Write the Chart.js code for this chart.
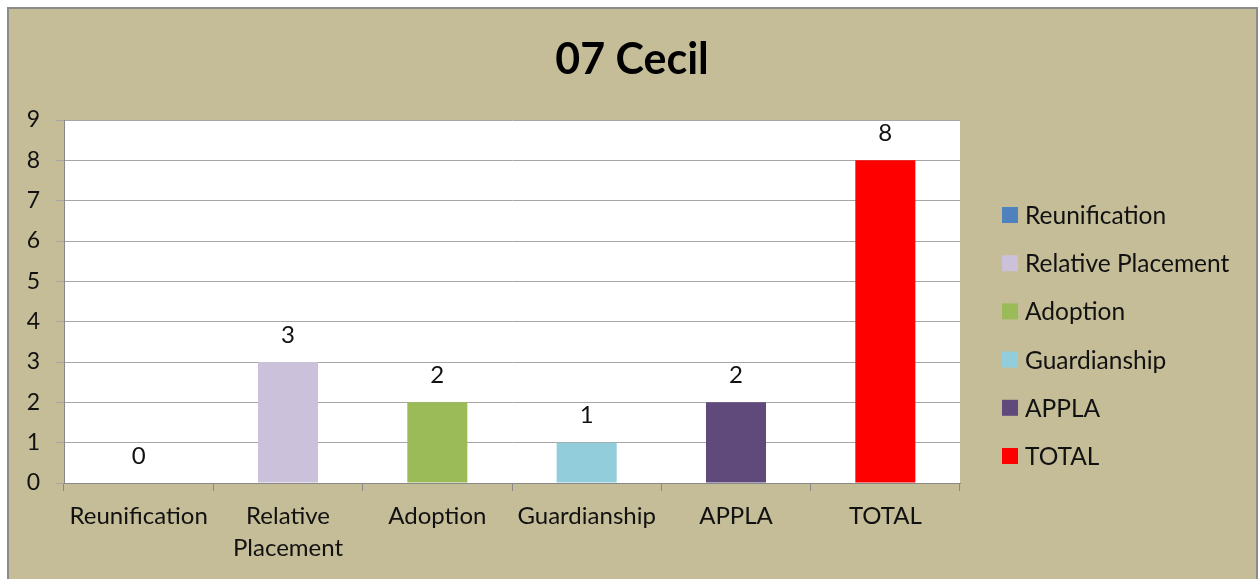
<!DOCTYPE html>
<html>
<head>
<meta charset="utf-8">
<script src="https://cdn.jsdelivr.net/npm/chart.js@4/dist/chart.umd.min.js"></script>
<style>
  html, body { margin: 0; padding: 0; background: #fff; }
  #wrap { width: 1258px; height: 579px; position: relative; }
</style>
</head>
<body>
<div id="wrap"><canvas id="chart"></canvas></div>
<script>
// Datos del gráfico
const chartTitle = "07 Cecil";
const categories = ["Reunification", "Relative Placement", "Adoption", "Guardianship", "APPLA", "TOTAL"];
const tickLabels = [["Reunification"], ["Relative", "Placement"], ["Adoption"], ["Guardianship"], ["APPLA"], ["TOTAL"]];
const values = [0, 3, 2, 1, 2, 8];
const barColors = ["#4F81BD", "#CCC1DA", "#9BBB59", "#92CDDC", "#604A7B", "#FF0000"];
const yTicks = [0, 1, 2, 3, 4, 5, 6, 7, 8, 9];

const FONT = "Lato, 'DejaVu Sans', sans-serif";
const BG = "#C4BD97";
const TEXT = "#111";

// Fondo, marco, área blanca y título centrado en todo el lienzo
const framePlugin = {
  id: "frame",
  beforeDraw(chart) {
    const { ctx, chartArea: a, width, height } = chart;
    ctx.save();
    ctx.fillStyle = "#fff";
    ctx.fillRect(0, 0, width, height);
    ctx.fillStyle = BG;
    ctx.fillRect(8, 8, width - 9, height - 8);
    ctx.strokeStyle = "#8c8c8c";
    ctx.lineWidth = 2;
    ctx.beginPath();
    ctx.moveTo(8, height);
    ctx.lineTo(8, 8);
    ctx.lineTo(width - 1, 8);
    ctx.lineTo(width - 1, height);
    ctx.stroke();
    ctx.fillStyle = "#fff";
    ctx.fillRect(a.left, a.top, a.right - a.left, a.bottom - a.top);

    ctx.font = `bold 43px ${FONT}`;
    ctx.fillStyle = "#000";
    ctx.textAlign = "center";
    ctx.textBaseline = "middle";
    ctx.fillText(chartTitle, width / 2 + 3, 60);
    ctx.restore();
  },
};

// Etiquetas de valor encima de cada barra
const valueLabels = {
  id: "valueLabels",
  afterDatasetsDraw(chart) {
    const { ctx } = chart;
    const meta = chart.getDatasetMeta(0);
    ctx.save();
    ctx.font = `24px ${FONT}`;
    ctx.fillStyle = TEXT;
    ctx.textAlign = "center";
    ctx.textBaseline = "middle";
    meta.data.forEach((bar, i) => {
      ctx.fillText(String(values[i]), bar.x, bar.y - 27);
    });
    ctx.restore();
  },
};

// Leyenda a la derecha (un elemento por categoría)
const sideLegend = {
  id: "sideLegend",
  afterDraw(chart) {
    const { ctx } = chart;
    const x = 1002, top = 215, gap = 48.2, box = 16;
    ctx.save();
    ctx.font = `24.5px ${FONT}`;
    ctx.textBaseline = "middle";
    categories.forEach((name, i) => {
      const y = top + i * gap;
      ctx.fillStyle = barColors[i];
      ctx.fillRect(x, y - box / 2, box, box);
      ctx.fillStyle = TEXT;
      ctx.fillText(name, x + 23, y + 1);
    });
    ctx.restore();
  },
};

new Chart(document.getElementById("chart"), {
  type: "bar",
  data: {
    labels: tickLabels,
    datasets: [
      {
        label: chartTitle,
        data: values,
        backgroundColor: barColors,
        borderWidth: 0,
        categoryPercentage: 1,
        barPercentage: 0.402,
      },
    ],
  },
  options: {
    responsive: true,
    maintainAspectRatio: false,
    animation: false,
    layout: { padding: { left: 0, right: 298, top: 120, bottom: 0 } },
    plugins: {
      legend: { display: false },
      tooltip: { enabled: false },
      title: { display: false },
    },
    scales: {
      x: {
        afterFit: (s) => { s.height = 96; },
        grid: {
          offset: true,
          drawOnChartArea: false,
          drawTicks: true,
          tickLength: 8,
          color: "#888",
        },
        border: { display: true, color: "#888", width: 1 },
        ticks: {
          color: TEXT,
          padding: 10,
          maxRotation: 0,
          autoSkip: false,
          font: { family: FONT, size: 24, lineHeight: 1.3 },
        },
      },
      y: {
        min: 0,
        max: 9,
        afterFit: (s) => { s.width = 64; },
        afterBuildTicks: (s) => { s.ticks = yTicks.map((v) => ({ value: v })); },
        grid: { color: "#a6a6a6", tickLength: 8, drawTicks: true },
        border: { display: true, color: "#888", width: 1 },
        ticks: {
          color: TEXT,
          padding: 16,
          font: { family: FONT, size: 23 },
        },
      },
    },
  },
  plugins: [framePlugin, valueLabels, sideLegend],
});
</script>
</body>
</html>
